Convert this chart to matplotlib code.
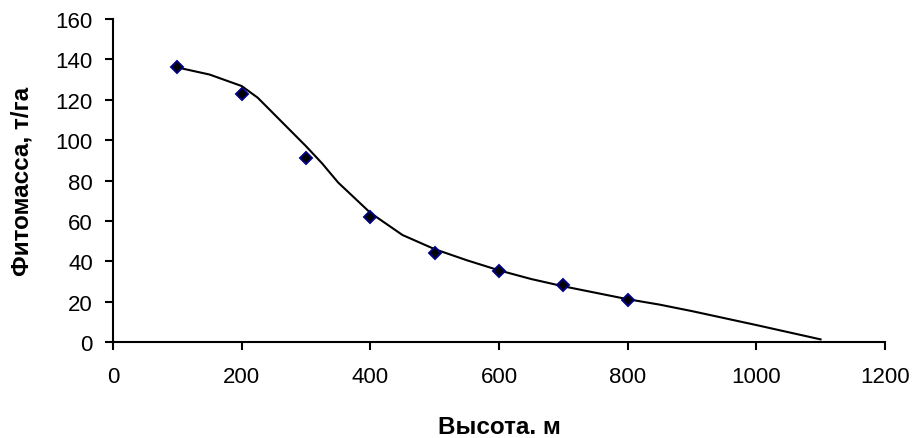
import matplotlib
matplotlib.use("Agg")
import matplotlib.pyplot as plt

plt.rcParams['font.family'] = ['Liberation Sans', 'DejaVu Sans']

# observed points
height_obs = [100, 200, 300, 400, 500, 600, 700, 800]
mass_obs = [136, 123, 91, 62, 44, 35, 28, 21]

# fitted curve
height_fit = [100, 150, 200, 225, 250, 300, 325, 350, 400, 450, 500, 550, 600, 650, 700, 750, 800, 850, 900, 1000, 1100]
mass_fit = [136, 132.5, 126.8, 121, 113, 97, 88.5, 79, 64, 53, 46, 40.5, 35.5, 31.2, 27.6, 24.4, 21.2, 18.5, 15.3, 8.4, 1.3]

fig = plt.figure(figsize=(9.16, 4.39), dpi=100)
ax = fig.add_axes([0.1234, 0.2187, 0.8426, 0.7357])

ax.plot(height_fit, mass_fit, color='black', lw=1.5, zorder=2)
ax.plot(height_obs, mass_obs, linestyle='none', marker='D', markersize=6.2,
        markerfacecolor='black', markeredgecolor='#000080', markeredgewidth=1.4, zorder=3)

ax.set_xlim(0, 1200)
ax.set_ylim(0, 160)
ax.set_xticks(range(0, 1201, 200))
ax.set_yticks(range(0, 161, 20))
for s in ['top', 'right']:
    ax.spines[s].set_visible(False)
for s in ['left', 'bottom']:
    ax.spines[s].set_linewidth(1.5)
ax.tick_params(direction='out', length=5.5, width=1.5, labelsize=16)
ax.tick_params(axis='x', pad=12)
ax.tick_params(axis='y', pad=9)

ax.set_xlabel('Высота. м', fontsize=17.5, fontweight='bold')
ax.set_ylabel('Фитомасса, т/га', fontsize=17.5, fontweight='bold')
ax.xaxis.set_label_coords(0.5, -0.262)
ax.xaxis.label.set_va('center')
ax.yaxis.set_label_coords(-0.118, 0.5)
ax.yaxis.label.set_va('center')

fig.savefig('out.png', dpi=100)
